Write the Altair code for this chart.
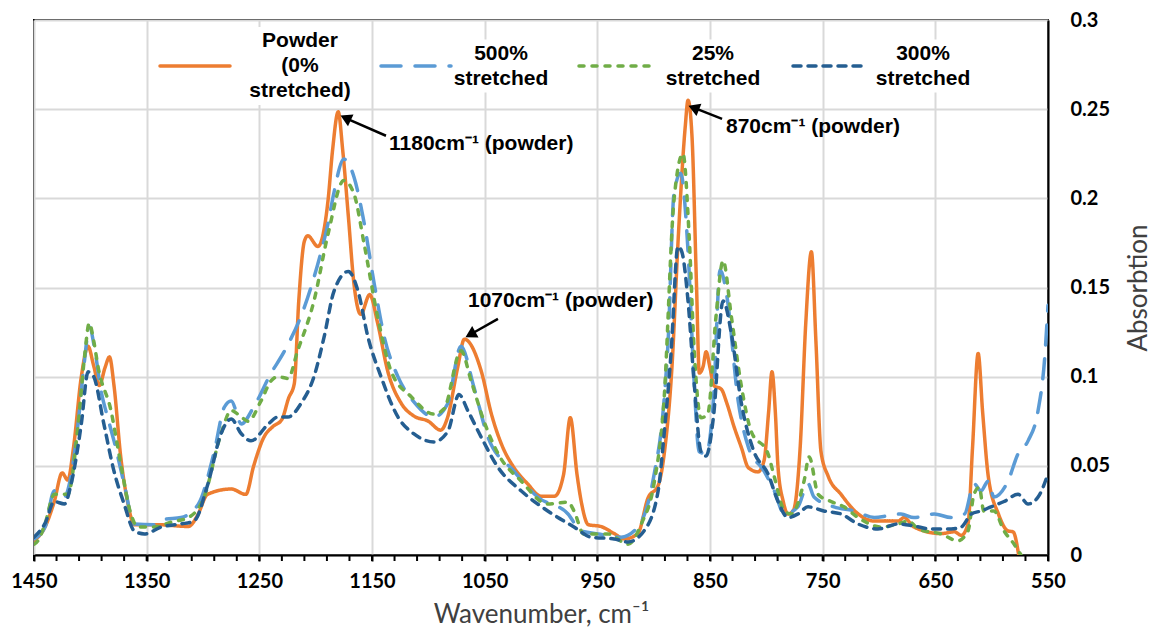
import altair as alt
import pandas as pd

# ---------------- data ----------------
series_names = ["Powder (0% stretched)", "500% stretched", "25% stretched", "300% stretched"]
series_labels = [["Powder", "(0%", "stretched)"], ["500%", "stretched"], ["25%", "stretched"], ["300%", "stretched"]]
series_colors = ["#ED7D31", "#5B9BD5", "#70AD47", "#255E91"]
series_dashes = [[1, 0], [20, 14], [5, 8], [8, 7]]

powder_wn = [1450, 1440, 1432, 1425, 1420, 1415, 1408, 1402, 1397, 1392, 1387, 1383, 1379, 1373, 1367, 1361,
             1340, 1313, 1305, 1296, 1275, 1262, 1255, 1246, 1238, 1230, 1224, 1219, 1215, 1210, 1207, 1198,
             1189, 1185, 1180, 1176, 1171, 1166, 1160, 1152, 1145, 1136, 1124, 1113, 1100, 1089, 1083, 1074,
             1068, 1053, 1044, 1035, 1024, 1012, 1000, 988, 980, 974, 968, 964, 958, 947, 935, 926, 914, 905,
             896, 890, 884, 878, 872, 869.5, 866, 862, 859.5, 856, 853.5, 850, 846.5, 840, 835, 828.7, 822,
             816, 807.4, 802, 798, 795, 792, 789.6, 785, 780.8, 776, 770, 765, 760, 756, 751.5, 745, 733.7,
             722, 704, 683, 677.8, 669, 645, 633, 627, 621, 617, 612, 608, 603, 594, 585.5, 581, 576]
powder_abs = [0.008, 0.016, 0.030, 0.046, 0.042, 0.060, 0.100, 0.117, 0.106, 0.095, 0.105, 0.111, 0.095, 0.055,
              0.030, 0.017, 0.017, 0.016, 0.022, 0.034, 0.037, 0.034, 0.050, 0.066, 0.072, 0.076, 0.088, 0.096,
              0.1425, 0.176, 0.179, 0.173, 0.199, 0.227, 0.2485, 0.227, 0.190, 0.152, 0.135, 0.146, 0.130,
              0.103, 0.085, 0.078, 0.075, 0.070, 0.077, 0.105, 0.121, 0.103, 0.079, 0.062, 0.049, 0.040,
              0.033, 0.033, 0.045, 0.077, 0.045, 0.029, 0.017, 0.016, 0.012, 0.009, 0.012, 0.032, 0.039,
              0.060, 0.103, 0.180, 0.240, 0.255, 0.235, 0.152, 0.102, 0.106, 0.114, 0.105, 0.095, 0.093,
              0.085, 0.072, 0.060, 0.049, 0.0466, 0.053, 0.080, 0.1027, 0.080, 0.049, 0.030, 0.023, 0.025,
              0.060, 0.130, 0.170, 0.120, 0.058, 0.044, 0.034, 0.025, 0.019, 0.019, 0.021, 0.0157, 0.012,
              0.013, 0.011, 0.0174, 0.060, 0.113, 0.080, 0.044, 0.023, 0.0135, 0.013, 0.0]

s500_wn = [1450, 1440, 1432, 1423, 1417, 1411, 1405, 1401, 1396, 1390.5, 1385, 1379, 1370, 1361, 1343, 1334.6,
           1319.5, 1304, 1290, 1281, 1275, 1266, 1255, 1240, 1228, 1210, 1195, 1189, 1184, 1175, 1166, 1158,
           1148, 1139, 1127, 1113, 1095, 1083, 1071, 1059.5, 1047, 1024, 1003, 976, 964.5, 949, 929, 914, 900,
           891, 887, 882, 876, 869.5, 864, 859.7, 853.5, 847, 841, 835, 825, 816, 802, 793, 784, 772, 763,
           757.7, 740, 722, 704, 692, 680.5, 669, 651, 636, 624, 615.7, 609.5, 603, 598, 585.5, 576.6, 567.7,
           558.8, 553, 550]
s500_abs = [0.009, 0.016, 0.036, 0.0325, 0.045, 0.073, 0.110, 0.128, 0.115, 0.092, 0.078, 0.064, 0.040, 0.0174,
            0.017, 0.020, 0.021, 0.0286, 0.058, 0.083, 0.0864, 0.0735, 0.083, 0.1015, 0.114, 0.139, 0.1705,
            0.186, 0.2025, 0.222, 0.212, 0.1896, 0.152, 0.122, 0.100, 0.086, 0.0774, 0.0847, 0.117, 0.094,
            0.066, 0.047, 0.0325, 0.023, 0.0135, 0.0118, 0.010, 0.0157, 0.0438, 0.085, 0.122, 0.2025, 0.214,
            0.1705, 0.096, 0.058, 0.0567, 0.0864, 0.160, 0.145, 0.0864, 0.0606, 0.047, 0.036, 0.023, 0.027,
            0.040, 0.0325, 0.027, 0.0247, 0.021, 0.022, 0.023, 0.021, 0.023, 0.021, 0.023, 0.040, 0.036,
            0.0415, 0.0325, 0.0415, 0.0567, 0.064, 0.081, 0.110, 0.140]

s25_wn = [1450, 1446.5, 1440, 1432, 1420, 1411, 1405, 1401, 1397, 1393, 1381.7, 1373, 1364, 1357.7, 1343, 1328,
          1313, 1299, 1284, 1275, 1266, 1260, 1248.5, 1239.6, 1233.5, 1224.6, 1216, 1201.5, 1189, 1175, 1166,
          1157, 1145, 1133, 1115, 1095, 1086, 1071, 1062, 1050.6, 1038, 1017.7, 994, 976, 970.7, 962, 940.5,
          922.8, 911, 899.7, 891, 882, 874, 868.6, 864, 858, 852, 844.7, 838.4, 831, 822.5, 813.6, 798.5, 793,
          784, 778, 766.5, 762, 754, 742.6, 731, 718.6, 698, 683, 674, 665, 645, 630, 621, 615.7, 611, 607,
          598, 589, 580, 574]
s25_abs = [0.006, 0.008, 0.018, 0.034, 0.034, 0.072, 0.112, 0.130, 0.120, 0.105, 0.081, 0.051, 0.023, 0.0157,
           0.0157, 0.0185, 0.021, 0.0325, 0.068, 0.081, 0.0774, 0.075, 0.0864, 0.0976, 0.100, 0.099, 0.1145,
           0.1425, 0.180, 0.210, 0.2025, 0.1745, 0.1335, 0.103, 0.0886, 0.079, 0.082, 0.1145, 0.0976, 0.075,
           0.0567, 0.0415, 0.0286, 0.0297, 0.0247, 0.0118, 0.0118, 0.006, 0.0174, 0.040, 0.085, 0.1986, 0.225,
           0.180, 0.1145, 0.077, 0.079, 0.1335, 0.165, 0.1335, 0.096, 0.0696, 0.0567, 0.044, 0.0247, 0.023,
           0.0415, 0.055, 0.034, 0.030, 0.027, 0.021, 0.0157, 0.0174, 0.019, 0.0146, 0.0118, 0.008, 0.0135,
           0.034, 0.038, 0.0247, 0.0247, 0.0135, 0.006, 0.0]

s300_wn = [1450, 1440, 1432, 1423, 1417, 1408, 1402, 1397, 1388, 1379, 1370, 1361, 1352, 1337, 1319.5, 1308,
           1295.6, 1284, 1275, 1266, 1257.4, 1242, 1233.5, 1224.6, 1213, 1201.5, 1192.6, 1183.7, 1171, 1162.4,
           1153.5, 1142, 1127, 1113, 1095, 1082.5, 1072.8, 1065, 1053, 1038, 1017.7, 994, 970.7, 955.6, 935,
           922.8, 908.6, 896, 891, 884.6, 878.4, 875, 869.5, 864, 858, 853.5, 847, 838.4, 831, 822.5, 811,
           798.5, 789.6, 780.8, 772, 763, 749, 733.7, 718.6, 701, 683, 669, 654, 636, 627, 618, 609.5, 600.6,
           589, 576.6, 567.7, 558.8, 550]
s300_abs = [0.010, 0.018, 0.030, 0.0286, 0.040, 0.0735, 0.1027, 0.100, 0.0735, 0.047, 0.0286, 0.0135, 0.0118,
            0.0157, 0.0174, 0.019, 0.040, 0.068, 0.0763, 0.068, 0.064, 0.0735, 0.0774, 0.0774, 0.085, 0.100,
            0.122, 0.148, 0.159, 0.148, 0.122, 0.100, 0.0774, 0.068, 0.0634, 0.0696, 0.090, 0.081, 0.066,
            0.049, 0.036, 0.0247, 0.0157, 0.010, 0.009, 0.0073, 0.0135, 0.036, 0.066, 0.113, 0.173, 0.170,
            0.1425, 0.096, 0.058, 0.0555, 0.077, 0.1425, 0.124, 0.0864, 0.058, 0.0455, 0.030, 0.021, 0.023,
            0.027, 0.0247, 0.023, 0.0174, 0.0146, 0.0174, 0.0163, 0.0146, 0.0146, 0.0157, 0.023, 0.0247, 0.027,
            0.030, 0.034, 0.0286, 0.0325, 0.0455]

# annotations
ann_text = ["1180cm⁻¹ (powder)", "870cm⁻¹ (powder)", "1070cm⁻¹ (powder)"]
ann_text_wn = [1134.9, 835.8, 1064.8]
ann_text_abs = [0.2306, 0.2401, 0.1425]
arrow_tail_wn = [1137.6, 839.3, 1038.2]
arrow_tail_abs = [0.2351, 0.2446, 0.1324]
arrow_head_wn = [1171.9, 862.9, 1061.2]
arrow_head_abs = [0.2446, 0.2504, 0.1242]
arrow_angle = [295, 292, 241]

x_major = list(range(550, 1451, 100))
x_minor = list(range(550, 1451, 20))
y_ticks = [0, 0.05, 0.1, 0.15, 0.2, 0.25, 0.3]

# ---------------- layout of the in-plot legend (pixels inside the plot area) ----------------
W, H = 1014, 535
leg_sym_x0 = [126, 347, 545, 759]
leg_sym_len = 70
leg_text_cx = [266, 467, 679, 889]
leg_mid_y = 46
leg_line_h = 25
leg_box_halfw = [68, 58, 58, 58]

# ---------------- build tables ----------------
rows = []
for name, wns, vals in zip(series_names,
                           [powder_wn, s500_wn, s25_wn, s300_wn],
                           [powder_abs, s500_abs, s25_abs, s300_abs]):
    for w, v in zip(wns, vals):
        rows.append({"series": name, "wn": w, "abs": v})
df = pd.DataFrame(rows)

ann_df = pd.DataFrame({
    "text": ann_text, "tx": ann_text_wn, "ty": ann_text_abs,
    "x1": arrow_tail_wn, "y1": arrow_tail_abs, "x2": arrow_head_wn, "y2": arrow_head_abs,
    "angle": arrow_angle,
})
minor_df = pd.DataFrame({"t": x_minor})

xscale = alt.Scale(domain=[550, 1450], reverse=True, nice=False, zero=False)
yscale = alt.Scale(domain=[0, 0.3], nice=False, zero=False)
color_scale = alt.Scale(domain=series_names, range=series_colors)
dash_scale = alt.Scale(domain=series_names, range=series_dashes)

x_axis = alt.Axis(
    title="Wavenumber, cm⁻¹", values=x_major, format="d",
    labelOverlap=False, labelFlush=False,
    labelFont="Lato", labelFontWeight="bold", labelFontSize=20, labelColor="black", labelPadding=10,
    titleFont="Lato", titleFontWeight="normal", titleFontSize=26, titleColor="#404040", titlePadding=10,
    grid=True, gridColor="#D9D9D9", gridWidth=2,
    domainColor="black", domainWidth=2, tickColor="black", tickWidth=2, tickSize=6,
)
y_axis = alt.Axis(
    orient="right", title="Absorbtion", values=y_ticks, format=".2~f",
    labelFont="Lato", labelFontWeight="bold", labelFontSize=20, labelColor="black", labelPadding=22,
    titleFont="Lato", titleFontWeight="normal", titleFontSize=26, titleColor="#404040",
    titleAngle=270, titleBaseline="top", titlePadding=16,
    grid=True, gridColor="#D9D9D9", gridWidth=2,
    domainColor="black", domainWidth=2, ticks=False,
)

lines = alt.Chart(df).mark_line(clip=True, strokeWidth=3.5, interpolate="monotone", strokeCap="round").encode(
    x=alt.X("wn:Q", scale=xscale, axis=x_axis),
    y=alt.Y("abs:Q", scale=yscale, axis=y_axis),
    color=alt.Color("series:N", scale=color_scale, legend=None),
    strokeDash=alt.StrokeDash("series:N", scale=dash_scale, legend=None),
    detail="series:N",
)

minor_ticks = alt.Chart(minor_df).mark_rule(color="black", strokeWidth=2).encode(
    x=alt.X("t:Q", scale=xscale), y=alt.value(H), y2=alt.value(H + 6),
)

arrows = alt.Chart(ann_df).mark_rule(color="black", strokeWidth=2.5).encode(
    x=alt.X("x1:Q", scale=xscale), y=alt.Y("y1:Q", scale=yscale),
    x2="x2:Q", y2="y2:Q",
)
heads = alt.Chart(ann_df).mark_point(shape="triangle", filled=True, color="black", size=170, opacity=1).encode(
    x=alt.X("x2:Q", scale=xscale), y=alt.Y("y2:Q", scale=yscale),
    angle=alt.Angle("angle:Q", scale=None),
)
labels = alt.Chart(ann_df).mark_text(
    align="left", baseline="middle", font="Liberation Sans", fontWeight="bold", fontSize=21, color="black"
).encode(
    x=alt.X("tx:Q", scale=xscale), y=alt.Y("ty:Q", scale=yscale), text="text:N",
)

# in-plot legend drawn as fixed-position marks
dummy = alt.Data(values=[{"k": 0}])
legend_layers = []
for i, name in enumerate(series_names):
    n = len(series_labels[i])
    half_h = (n - 1) / 2 * leg_line_h + 14
    legend_layers.append(
        alt.Chart(dummy).mark_rect(color="white").encode(
            x=alt.value(leg_text_cx[i] - leg_box_halfw[i]), x2=alt.value(leg_text_cx[i] + leg_box_halfw[i]),
            y=alt.value(leg_mid_y - half_h), y2=alt.value(leg_mid_y + half_h),
        )
    )
    legend_layers.append(
        alt.Chart(dummy).mark_rule(strokeWidth=3.5, strokeCap="round", color=series_colors[i],
                                   strokeDash=series_dashes[i]).encode(
            x=alt.value(leg_sym_x0[i]), x2=alt.value(leg_sym_x0[i] + leg_sym_len), y=alt.value(leg_mid_y),
        )
    )
    for j, t in enumerate(series_labels[i]):
        legend_layers.append(
            alt.Chart(dummy).mark_text(
                align="center", baseline="middle", font="Liberation Sans", fontWeight="bold",
                fontSize=21, color="black", text=t,
            ).encode(
                x=alt.value(leg_text_cx[i]), y=alt.value(leg_mid_y + (j - (n - 1) / 2) * leg_line_h),
            )
        )

chart = alt.layer(lines, minor_ticks, arrows, heads, labels, *legend_layers).properties(
    width=W, height=H,
    padding={"left": 2, "top": 2, "right": 0, "bottom": 0},
).configure_view(stroke="black", strokeWidth=2)

chart.save("out.html", embed_options={"renderer": "svg", "actions": False})
